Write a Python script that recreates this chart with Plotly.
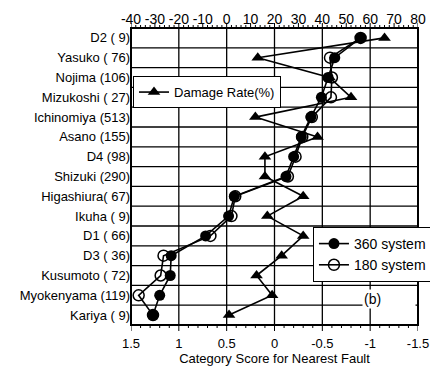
import plotly.graph_objects as go

# Sites with number of samples, top to bottom
sites = [
    "D2 ( 9)", "Yasuko ( 76)", "Nojima (106)", "Mizukoshi ( 27)",
    "Ichinomiya (513)", "Asano (155)", "D4 (98)", "Shizuki (290)",
    "Higashiura( 67)", "Ikuha ( 9)", "D1 ( 66)", "D3 ( 36)",
    "Kusumoto ( 72)", "Myokenyama (119)", "Kariya ( 9)",
]
rows = list(range(len(sites)))

damage_rate = [66, 13, 43, 52, 12, 38, 16, 16, 32, 17, 32, 23, 12.5, 19, 1]
score_360 = [-0.90, -0.63, -0.56, -0.49, -0.38, -0.28, -0.20, -0.12, 0.42, 0.48, 0.72, 1.08, 1.09, 1.20, 1.27]
score_180 = [-0.90, -0.58, -0.60, -0.59, -0.39, -0.29, -0.22, -0.14, 0.41, 0.45, 0.67, 1.16, 1.19, 1.42, 1.27]

score_ticks = [1.5, 1, 0.5, 0, -0.5, -1, -1.5]
score_labels = ["1.5", "1", "0.5", "0", "-0.5", "-1", "-1.5"]
score_minor = [round(1.5 - 0.1 * i, 1) for i in range(31)]
rate_ticks = [-40, -30, -20, -10, 0, 10, 20, 30, 40, 50, 60, 70, 80]
rate_labels = ["-40", "-30", "-20", "-10", "0", "10", "20", "30", "40", "50", "60", "70", "80"]
rate_minor = list(range(-40, 81, 2))

FONT = "Liberation Sans, Arial, sans-serif"
BLACK = "#000000"
CLEAR = "rgba(0,0,0,0)"
PLOT_H = 370 - 28 - 45  # plot-area height in px, used for tick lengths

fig = go.Figure()

# damage rate on the main (top) axis; category scores on the overlaid bottom axis
fig.add_trace(go.Scatter(
    x=damage_rate, y=rows, xaxis="x", yaxis="y", mode="lines+markers", name="Damage Rate(%)",
    line=dict(color=BLACK, width=1.6),
    marker=dict(symbol="triangle-up", size=11, color=BLACK),
    legend="legend2",
))
fig.add_trace(go.Scatter(
    x=score_180, y=rows, xaxis="x2", yaxis="y", mode="lines+markers", name="180 system",
    line=dict(color=BLACK, width=1.6),
    marker=dict(symbol="circle-open", size=11, color=BLACK, line=dict(width=1.5)),
    legendrank=2,
))
fig.add_trace(go.Scatter(
    x=score_360, y=rows, xaxis="x2", yaxis="y", mode="lines+markers", name="360 system",
    line=dict(color=BLACK, width=1.6),
    marker=dict(symbol="circle", size=11, color=BLACK),
    legendrank=1,
))

# grid: row separators and vertical lines at the major category-score ticks
for r in rows[:-1]:
    fig.add_shape(type="line", xref="paper", yref="y", x0=0, x1=1, y0=r + 0.5, y1=r + 0.5,
                  line=dict(color=BLACK, width=1.3), layer="below")
for v in score_ticks[1:-1]:
    fig.add_shape(type="line", xref="x2", yref="paper", x0=v, x1=v, y0=0, y1=1,
                  line=dict(color=BLACK, width=1.3), layer="below")

# tick marks: damage rate along the top, category score along the bottom
for v in rate_minor:
    ln = 5 if v in rate_ticks else 3
    fig.add_shape(type="line", xref="x", yref="paper", x0=v, x1=v, y0=1, y1=1 + ln / PLOT_H,
                  line=dict(color=BLACK, width=1))
for v in score_minor:
    ln = 6 if v in score_ticks else 3
    fig.add_shape(type="line", xref="x2", yref="paper", x0=v, x1=v, y0=0, y1=-ln / PLOT_H,
                  line=dict(color=BLACK, width=1))

# plot frame
fig.add_shape(type="rect", xref="paper", yref="paper", x0=0, x1=1, y0=0, y1=1,
              line=dict(color=BLACK, width=2), fillcolor=CLEAR, layer="above")

fig.add_annotation(
    text="(b)", xref="paper", yref="paper", x=0.805, y=0.089,
    xanchor="left", yanchor="middle", showarrow=False, align="left",
    width=50, bgcolor="white", font=dict(size=14, color=BLACK, family=FONT),
)

fig.update_layout(
    template="none",
    width=430, height=370,
    margin=dict(l=131, r=12, t=28, b=45, autoexpand=False),
    paper_bgcolor="white", plot_bgcolor="white",
    font=dict(family=FONT, size=13, color=BLACK),
    showlegend=True,
    xaxis=dict(
        range=[-40, 80], side="top", anchor="y",
        tickvals=rate_ticks, ticktext=rate_labels, tickangle=0,
        ticks="", showgrid=False, zeroline=False, showline=False,
        tickfont=dict(size=14),
    ),
    xaxis2=dict(
        range=[1.5, -1.5], overlaying="x", side="bottom", anchor="y",
        tickvals=score_ticks, ticktext=score_labels, tickangle=0,
        ticks="outside", ticklen=6, tickcolor=CLEAR,
        showgrid=False, zeroline=False, showline=False,
        title=dict(text="Category Score for Nearest Fault", font=dict(size=13), standoff=4),
    ),
    yaxis=dict(
        range=[14.5, -0.5], tickvals=rows, ticktext=sites,
        ticks="", showgrid=False, zeroline=False, showline=False,
    ),
    legend=dict(
        x=0.634, y=0.33, xanchor="left", yanchor="top",
        bgcolor="white", bordercolor=BLACK, borderwidth=1,
        font=dict(size=14), traceorder="normal",
    ),
    legend2=dict(
        x=0.007, y=0.838, xanchor="left", yanchor="top",
        bgcolor="white", bordercolor=BLACK, borderwidth=1,
        font=dict(size=13),
    ),
)

fig.write_html("out.html")
